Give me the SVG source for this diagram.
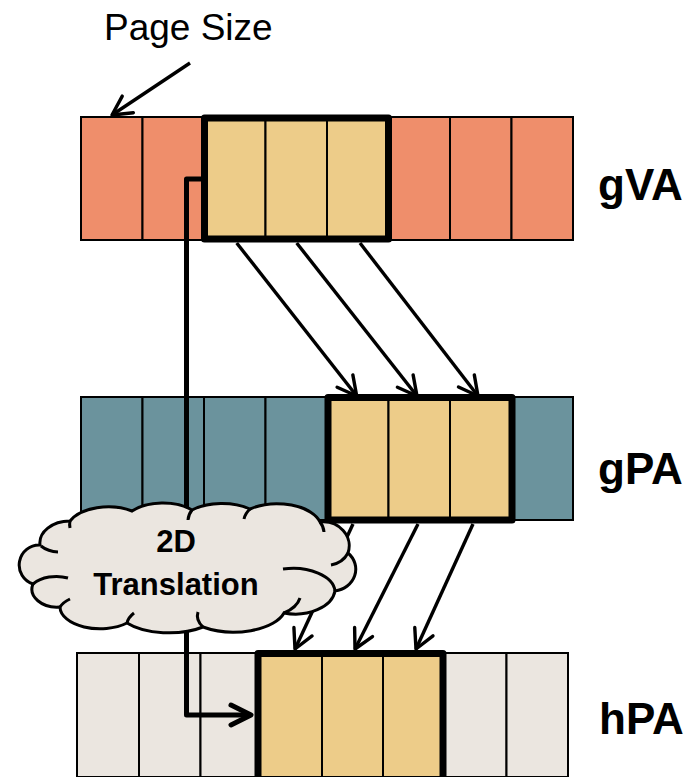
<svg xmlns="http://www.w3.org/2000/svg" width="690" height="777" viewBox="0 0 690 777">
<defs>
<style>
.va{fill:#EF8E6B;stroke:#000;stroke-width:2}
.pa{fill:#6B939D;stroke:#000;stroke-width:2}
.ha{fill:#EBE6E0;stroke:#000;stroke-width:2}
.hl{fill:#EDCC89;stroke:#000;stroke-width:2}
.box{fill:none;stroke:#000;stroke-width:7;stroke-linejoin:round}
.con{fill:none;stroke:#000;stroke-width:3.4}
.lbl{font-family:"Liberation Sans",Arial,sans-serif;font-weight:bold;font-size:44px;fill:#000}
.ctx{font-family:"Liberation Sans",Arial,sans-serif;font-weight:bold;font-size:31px;fill:#000;text-anchor:middle}
</style>
<marker id="ah" markerUnits="userSpaceOnUse" markerWidth="40" markerHeight="40" refX="0" refY="0" orient="auto" overflow="visible">
<path d="M -19,-10 L 0,0 L -19,10" fill="none" stroke="#000" stroke-width="3.4" stroke-linecap="round" stroke-linejoin="round"/>
</marker>
<marker id="ahb" markerUnits="userSpaceOnUse" markerWidth="40" markerHeight="40" refX="0" refY="0" orient="auto" overflow="visible">
<path d="M -20,-10 L 0,0 L -20,10" fill="none" stroke="#000" stroke-width="5" stroke-linecap="round" stroke-linejoin="round"/>
</marker>
</defs>
<rect width="690" height="777" fill="#fff"/>

<g id="gVA">
<rect class="va" x="81" y="117" width="61.5" height="123"/>
<rect class="va" x="142.5" y="117" width="61.5" height="123"/>
<rect class="hl" x="204" y="117" width="61.5" height="123"/>
<rect class="hl" x="265.5" y="117" width="61.5" height="123"/>
<rect class="hl" x="327" y="117" width="61.5" height="123"/>
<rect class="va" x="388.5" y="117" width="61.5" height="123"/>
<rect class="va" x="450" y="117" width="61.5" height="123"/>
<rect class="va" x="511.5" y="117" width="61.5" height="123"/>
<rect class="box" x="204.5" y="118" width="184" height="121"/>
<text class="lbl" x="598" y="200">gVA</text>
</g>

<g id="gPA">
<rect class="pa" x="81" y="397" width="61.5" height="123"/>
<rect class="pa" x="142.5" y="397" width="61.5" height="123"/>
<rect class="pa" x="204" y="397" width="61.5" height="123"/>
<rect class="pa" x="265.5" y="397" width="61.5" height="123"/>
<rect class="hl" x="327" y="397" width="61.5" height="123"/>
<rect class="hl" x="388.5" y="397" width="61.5" height="123"/>
<rect class="hl" x="450" y="397" width="61.5" height="123"/>
<rect class="pa" x="511.5" y="397" width="61.5" height="123"/>
<rect class="box" x="328" y="397.5" width="184" height="122.5"/>
<text class="lbl" x="598" y="484">gPA</text>
</g>

<g id="hPA">
<rect class="ha" x="77" y="653" width="62" height="124"/>
<rect class="ha" x="139" y="653" width="61.5" height="124"/>
<rect class="ha" x="200.5" y="653" width="58" height="124"/>
<rect class="hl" x="258" y="653" width="64" height="124"/>
<rect class="hl" x="322" y="653" width="61" height="124"/>
<rect class="hl" x="383" y="653" width="60" height="124"/>
<rect class="ha" x="443" y="653" width="63.5" height="124"/>
<rect class="ha" x="506.5" y="653" width="61.5" height="124"/>
<path class="box" d="M 258,785 L 258,653.5 L 443,653.5 L 443,785"/>
<text class="lbl" x="599" y="734">hPA</text>
</g>

<g id="page-size">
<text x="104" y="40" style="font-family:'Liberation Sans',Arial,sans-serif;font-size:37px;fill:#000">Page Size</text>
</g>

<g id="connectors">
<line class="con" x1="190" y1="63" x2="112" y2="115" marker-end="url(#ah)"/>
<line class="con" x1="236.7" y1="243" x2="356.7" y2="396" marker-end="url(#ah)"/>
<line class="con" x1="296.7" y1="243" x2="417" y2="396" marker-end="url(#ah)"/>
<line class="con" x1="360" y1="243" x2="478" y2="396" marker-end="url(#ah)"/>
<line class="con" x1="353" y1="524" x2="295" y2="649" marker-end="url(#ah)"/>
<line class="con" x1="418" y1="524" x2="355" y2="649" marker-end="url(#ah)"/>
<line class="con" x1="473" y1="524" x2="416" y2="649" marker-end="url(#ah)"/>
<path d="M 204,179 L 186.5,179 L 186.5,715 L 251,715" fill="none" stroke="#000" stroke-width="5" stroke-linejoin="round" marker-end="url(#ahb)"/>
</g>

<g id="cloud">
<path d="M 40,545 A 30,22 0 0 1 70,521 A 42,24 0 0 1 132,511 A 40,22 0 0 1 192,510 A 42,22 0 0 1 250,509 A 44,24 0 0 1 320,522 A 26,24 0 0 1 348,553 A 24,22 0 0 1 335,591 A 40,26 0 0 1 284,613 A 52,26 0 0 1 203,627 A 52,24 0 0 1 127,623 A 40,22 0 0 1 60,607 A 25,18 0 0 1 33,584 A 20,20 0 0 1 40,545 Z" fill="#EBE6E0" stroke="#000" stroke-width="3"/>
<path d="M 41,546 A 26,22 0 0 0 58,552" fill="none" stroke="#000" stroke-width="3"/>
<path d="M 33,584 A 30,20 0 0 1 68,578" fill="none" stroke="#000" stroke-width="3"/>
<path d="M 60,607 A 30,20 0 0 1 70,599" fill="none" stroke="#000" stroke-width="3"/>
<path d="M 127,623 A 40,22 0 0 1 134,613" fill="none" stroke="#000" stroke-width="3"/>
<path d="M 203,627 A 40,22 0 0 1 198,612" fill="none" stroke="#000" stroke-width="3"/>
<path d="M 284,613 A 40,24 0 0 0 300,598" fill="none" stroke="#000" stroke-width="3"/>
<path d="M 335,591 A 42,24 0 0 0 283,569" fill="none" stroke="#000" stroke-width="3"/>
<path d="M 348,553 A 24,22 0 0 1 331,565" fill="none" stroke="#000" stroke-width="3"/>
<path d="M 320,522 A 30,22 0 0 1 324,532" fill="none" stroke="#000" stroke-width="3"/>
<path d="M 250,509 A 30,22 0 0 0 244,519" fill="none" stroke="#000" stroke-width="3"/>
<path d="M 192,510 A 30,22 0 0 0 188,520" fill="none" stroke="#000" stroke-width="3"/>
<path d="M 70,521 A 30,22 0 0 0 70,528" fill="none" stroke="#000" stroke-width="3"/>
<text class="ctx" x="176" y="552">2D</text>
<text class="ctx" x="176" y="595">Translation</text>
</g>
</svg>
